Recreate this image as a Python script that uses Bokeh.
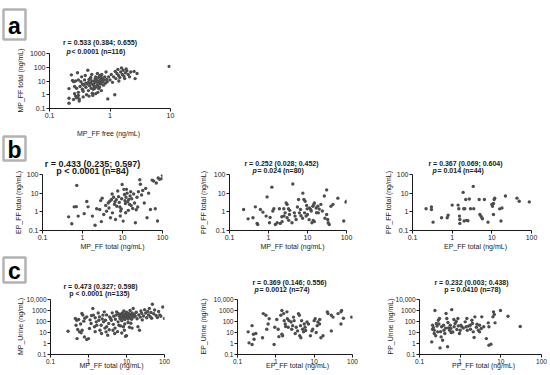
from bokeh.plotting import figure
from bokeh.models import Label, FixedTicker, Range1d, GridBox, BoxAnnotation
from bokeh.layouts import row, column
from bokeh.embed import file_html
from bokeh.resources import INLINE

# ---------------- data ----------------
# panel a: MP_FF free vs MP_FF total (n=116)
a_x = [0.21,0.21,0.21,0.23,0.24,0.25,0.25,0.26,0.26,0.27,0.27,0.28,0.28,0.29,0.29,0.30,0.30,0.30,0.31,0.31,
       0.32,0.33,0.34,0.35,0.36,0.36,0.37,0.38,0.39,0.40,0.41,0.42,0.43,0.44,0.44,0.45,0.46,0.47,0.48,0.49,0.50,0.50,0.51,0.52,
       0.53,0.54,0.55,0.56,0.57,0.58,0.59,0.60,0.61,0.62,0.63,0.64,0.65,0.66,0.67,0.68,0.69,0.70,0.71,0.72,0.73,0.74,0.75,0.76,0.78,0.80,0.82,0.84,0.86,0.88,0.90,0.92,0.95,
       0.40,0.45,0.55,0.60,0.65,0.70,0.58,0.48,0.35,0.62,0.52,
       1.0,1.05,1.1,1.15,1.2,1.22,1.25,1.3,1.35,1.38,1.4,1.45,1.5,1.55,1.6,1.65,1.7,1.75,1.8,1.85,1.9,2.0,2.1,2.2,2.5,2.6,2.8,
       9.5]
a_y = [2.8,0.55,0.24,28,11,9,0.45,4,1.2,0.8,10,0.6,3,0.7,40,12,1.5,0.9,0.5,0.35,
       4,9,20,2.5,1.8,0.7,5,12,25,3.5,1,6,60,8,2,0.8,4.5,15,7,3,30,10,1.3,5.5,
       2.5,6,10,3,15,20,8,4,12,5,1.5,9,18,7,3.5,25,11,6,14,2,30,8,16,10,5,12,20,7,45,13,9,0.5,20,
       7,13,4,9.5,2.8,22,1.2,18,6,35,0.9,
       12,30,8,20,1.0,50,15,35,70,25,10,18,45,90,30,60,22,15,40,75,55,30,20,45,50,15,35,
       115]

# panel b1: MP_FF total vs EP_FF total (n=84)
b1_x = [0.45,0.54,0.62,0.70,0.72,0.78,1.1,1.28,1.38,1.77,2.06,2.26,2.7,2.85,3.1,2.96,3.4,4.0,4.6,4.4,4.8,5.3,5.0,5.6,
        6.0,6.3,6.5,6.7,7.0,7.2,7.6,8.0,8.3,8.6,9.0,9.3,9.5,9.8,10.4,10.8,11.2,11.5,11.8,12.2,12.6,13,13.5,14,14.3,15,15.5,
        16,17,18,19,20,21,22,23,25,27,28,30,32,35,38,41,45,50,55,60,66,70,75,78,85,95,100,12,8.8,16.5,5.5,3.8,24]
b1_y = [0.54,0.23,1.85,1.9,26,0.59,0.8,3.6,1.85,0.59,0.19,1.45,1.33,4.0,5.4,0.3,0.72,1.09,1.6,3.0,3.7,4.6,0.48,0.88,
        6,2.5,3.5,0.39,4.5,2.0,13,6.5,3.2,1.8,1.1,1.45,5,29,0.32,16,8.5,4,2.8,6,16,10,3.5,1.2,4.6,2.5,7,
        12,5,1.5,9,3,0.26,1.3,6,12,52,30,8,14,3,18,0.48,10,1.33,50,45,1.45,35,0.32,65,55,60,90,0.9,0.6,2.2,9,2.2,1.8]

# panel b2: MP_FF total vs PP_FF total (n=80)
b2_x = [0.23,0.40,0.46,0.51,0.53,0.62,0.72,0.87,0.92,1.06,1.22,1.29,1.37,1.67,1.9,2.0,2.24,2.47,2.67,2.84,3.0,3.0,3.26,3.45,
        4.0,4.2,4.6,4.8,5.1,5.9,6.2,6.6,7.6,8.1,8.7,8.4,9.2,10,9.8,11.2,12,13.7,14.5,15,13,15,16.7,18.3,19,27,31,31,33,34,36,
        45,60,85,100,98,1.1,2.2,3.5,5.5,6.8,7.5,9.5,11,12.5,14,17,20,22,24,28,40,0.3,1.5,2.5,3.3]
b2_y = [1.33,0.48,1.85,0.24,0.21,1.33,0.96,0.59,6.3,0.26,21,1.1,1.45,0.26,1.45,0.24,0.3,1.45,0.88,3.0,2.5,0.48,1.45,0.72,
        0.26,31,0.88,0.59,0.39,4.6,0.88,1.33,10,4.6,3.7,0.88,0.59,0.72,1.45,1.6,1.33,2,2.5,3,0.26,0.3,1.6,2,0.88,7,15,0.72,0.39,0.26,0.21,
        2.5,5.4,0.32,3.7,3.3,0.5,0.55,1.2,1.8,0.62,0.45,2.2,0.38,1.1,0.35,0.9,1.4,2.5,1.1,0.45,2,0.42,0.21,0.6,0.35]

# panel b3: EP_FF total vs PP_FF total (n=44)
b3_x = [0.22,0.30,0.30,0.33,0.54,0.75,0.79,1.0,1.41,1.47,1.53,1.56,1.56,1.89,1.96,2.08,2.0,2.3,2.5,2.2,2.7,2.9,3.4,3.5,
        4.8,5.0,5.3,5.6,5.8,6.5,8.0,10,10.4,11,11.5,11.8,11,15.7,18,17,22,43,49,88]
b3_y = [1.45,1.85,1.33,0.28,0.48,0.48,0.66,2.3,2.3,1.45,0.59,0.39,0.24,11,1.45,1.45,0.32,0.35,0.33,4.6,4.9,1.45,23,1.45,
        4.6,0.72,0.59,0.48,0.42,4.6,0.28,2.5,2,2.8,4.6,5.4,0.72,1.45,1.6,0.32,7,5.4,3.7,3.4]

# panel c1: MP_FF total vs MP_Urine (n=135)
c1_x = [0.29,0.45,0.49,0.47,0.52,0.5,0.58,0.64,0.68,0.67,0.71,0.75,0.78,0.9,1.0,0.9,1.06,1.17,1.3,1.35,1.44,1.6,1.65,1.87,1.95,
        2.0,2.15,2.4,2.5,2.8,2.6,2.9,3.2,3.0,3.4,3.6,4.0,4.2,4.4,4.9,5.3,5.5,6.0,6.0,6.3,8.3,8.8,9.4,20,22,48,90,100,
        6.5,6.8,7,7.2,7.5,7.8,8,8.2,8.5,8.7,9,9.2,9.5,9.8,10,10.3,10.6,11,11.3,11.6,12,12.4,12.8,13.2,13.6,14,14.5,15,15.5,16,
        17,18,19,21,23,24,25,26,28,30,32,34,36,38,40,42,44,46,52,55,60,65,70,75,80,
        1.5,2.2,2.7,3.5,4.5,5,5.8,7,7.5,9,10,11,12,13,14,
        0.55,0.62,0.8,1.1,1.2,1.5,1.8,2.3,3.0,3.8,4.6,5.1]
c1_y = [13,190,130,46,19,2.8,11.5,9.3,16,530,380,107,4,2.3,2.8,265,23,66,1500,380,33,93,46,130,265,
        16,46,380,93,130,750,11.5,5.7,33,66,265,130,610,16,8,380,750,530,93,46,33,16,4.6,33,16,3700,2100,190,
        300,180,450,250,120,600,350,200,900,280,150,480,320,220,700,400,260,170,550,330,230,1000,420,300,160,600,350,1500,250,450,
        300,700,180,400,250,900,550,140,320,1200,600,220,800,400,1500,280,650,200,500,1100,350,230,800,400,300,
        12,8,25,18,55,25,12,40,9,60,5,80,30,70,25,
        150,60,200,140,350,220,600,170,400,190,300,160]

# panel c2: EP_FF total vs EP_Urine (n=74)
c2_x = [0.19,0.2,0.24,0.24,0.27,0.26,0.45,0.47,0.55,0.58,0.63,0.67,0.9,0.94,1.06,1.15,1.2,1.35,1.44,1.44,1.5,1.6,1.65,1.76,
        1.95,2.0,2.1,2.2,2.5,2.6,2.75,2.9,3.0,3.4,3.7,3.9,4.1,4.2,4.5,4.4,4.7,5.0,5.5,5.3,5.8,6.5,7.1,8,8.7,9.2,10,10.6,
        11.3,12,12.5,13.8,15,17,22,23,28,31,28,42,50,52,50,58,95,0.3,1.8,3.2,6,14]
c2_y = [11.5,1.15,42,0.8,2.4,7,3.3,520,370,20,60,180,0.8,30,150,20,4.2,370,1000,7,5,520,120,60,
        750,180,30,120,90,20,42,250,120,30,14,520,370,5,3.3,42,120,20,60,11.5,30,90,60,5,14,20,120,180,
        10,42,90,60,3.3,5,750,520,370,250,14,520,750,1000,60,200,250,8,35,8,15,150]

# panel c3: PP_FF total vs PP_Urine (n=78)
c3_x = [0.2,0.21,0.22,0.23,0.23,0.24,0.26,0.27,0.28,0.29,0.31,0.32,0.34,0.35,0.39,0.4,0.42,0.45,0.47,0.49,0.52,0.55,0.57,
        0.59,0.62,0.66,0.71,0.75,0.8,0.83,0.88,0.96,1.0,1.04,1.1,1.33,1.4,1.46,1.5,1.6,1.76,1.94,2.0,2.1,2.2,2.3,2.6,2.8,
        3.0,3.0,3.3,3.4,3.8,4.4,4.9,5.1,5.1,5.7,6.4,6.6,6.9,7.2,9.8,15,30,
        0.21,0.25,0.3,0.33,0.37,0.44,0.5,0.6,0.7,0.9,1.2,1.8,2.5]
c3_y = [1.4,46,28,16,8,1000,66,38,11.5,130,190,0.4,4,33,46,16,8,530,190,0.5,26,16,46,
        23,1200,11,33,66,100,19,190,8,16,46,33,93,33,190,16,38,46,130,66,11.5,3.5,265,57,16,
        11.5,46,23,265,33,2.8,75,33,0.7,0.87,265,750,430,75,1000,300,35,
        20,5,60,12,2,25,80,10,150,40,25,20,30]

ticks_01_10 = [0.1, 1, 10]
ticks_01_100 = [0.1, 1, 10, 100]
ticks_01_1000 = [0.1, 1, 10, 100, 1000]
ticks_01_10000 = [0.1, 1, 10, 100, 1000, 10000]
tick_text = {0.1: "0.1", 1: "1", 10: "10", 100: "100", 1000: "1000", 10000: "10,000"}

AX_FONT = "Liberation Sans"
INK = "#1a1a1a"
W, H = 548, 373


def panel(xs, ys, xr, yr, xt, yt, bl, fw, br, bt, fh, bb, tick_size="7px"):
    p = figure(x_axis_type="log", y_axis_type="log",
               x_range=Range1d(*xr), y_range=Range1d(*yr),
               frame_width=fw, frame_height=fh,
               min_border_left=bl, min_border_right=br,
               min_border_top=bt, min_border_bottom=bb,
               toolbar_location=None, output_backend="svg")
    p.outline_line_color = None
    p.xgrid.visible = False
    p.ygrid.visible = False
    p.background_fill_color = "white"
    p.border_fill_color = "white"
    for ax, t in ((p.xaxis[0], xt), (p.yaxis[0], yt)):
        ax.ticker = FixedTicker(ticks=t, minor_ticks=[])
        ax.major_label_overrides = {v: tick_text[v] for v in t}
        ax.axis_line_color = INK
        ax.axis_line_width = 1
        ax.major_tick_line_color = INK
        ax.major_tick_out = 3
        ax.major_tick_in = 0
        ax.minor_tick_out = 0
        ax.minor_tick_in = 0
        ax.major_label_text_font = AX_FONT
        ax.major_label_text_font_size = tick_size
        ax.major_label_text_color = INK
        ax.major_label_standoff = 1
    p.scatter(xs, ys, size=3.4, color="#4d4d4d", line_color=None)
    return p


# ---- panels (page coordinates of frames match the reference) ----
pa = panel(a_x, a_y, (0.1, 10), (0.1, 1000), ticks_01_10, ticks_01_1000,
           49, 121, 30, 53, 55, 28)

pb1 = panel(b1_x, b1_y, (0.1, 100), (0.1, 100), ticks_01_100, ticks_01_100,
            42, 120, 25, 38, 56, 22)
pb2 = panel(b2_x, b2_y, (0.1, 100), (0.1, 100), ticks_01_100, ticks_01_100,
            42, 117, 26, 38, 56, 22)
pb3 = panel(b3_x, b3_y, (0.1, 100), (0.1, 100), ticks_01_100, ticks_01_100,
            40, 119, 14, 38, 56, 22)

pc1 = panel(c1_x, c1_y, (0.1, 100), (0.1, 10000), ticks_01_100, ticks_01_10000,
            50, 114, 26, 47, 55, 19, tick_size="6.5px")
pc2 = panel(c2_x, c2_y, (0.1, 100), (0.1, 10000), ticks_01_100, ticks_01_10000,
            47, 115, 26, 47, 55, 19, tick_size="6.5px")
pc3 = panel(c3_x, c3_y, (0.1, 100), (0.1, 10000), ticks_01_100, ticks_01_10000,
            41, 122, 6, 47, 55, 19, tick_size="6.5px")

panels = column(pa, row(pb1, pb2, pb3, spacing=0), row(pc1, pc2, pc3, spacing=0), spacing=0)

# ---- transparent overlay for panel letters, statistics and axis titles ----
ov = figure(width=W, height=H, x_range=Range1d(0, W), y_range=Range1d(H, 0),
            min_border=0, toolbar_location=None, output_backend="svg")
ov.axis.visible = False
ov.grid.visible = False
ov.outline_line_color = None
ov.background_fill_color = None
ov.border_fill_color = None


def txt(x, y, text, size="7px", style="normal", align="center", angle=0, font=AX_FONT):
    ov.add_layout(Label(x=x, y=y, text=text, text_font=font, text_font_size=size,
                        text_font_style=style, text_align=align, text_baseline="middle",
                        angle=angle, text_color=INK))


def letter(cx, cy, w, h, text):
    ov.add_layout(BoxAnnotation(left=cx - w / 2, right=cx + w / 2, top=cy - h / 2, bottom=cy + h / 2,
                                fill_color="white", fill_alpha=1, line_color="black", line_width=2.5))
    ov.add_layout(Label(x=cx, y=cy + 1, text=text, text_font="Liberation Sans", text_font_size="23px",
                        text_font_style="bold", text_align="center", text_baseline="middle",
                        text_color="black"))


def stats(l1, l2, c1, y1, x2, y2, italic_p, size="7px", pw=5.0):
    txt(c1, y1, l1, size=size, style="bold")
    if italic_p:
        txt(x2, y2, "p", size=size, style="bold italic", align="left")
        txt(x2 + pw, y2, l2, size=size, style="bold", align="left")
    else:
        txt(x2, y2, l2, size=size, style="bold")


ROT = 1.5708
AXS = "7px"

letter(14, 24, 22, 30, "a")
letter(14, 148, 22, 24, "b")
letter(14, 269.5, 22, 25, "c")

stats("r = 0.533 (0.384; 0.655)", "< 0.0001 (n=116)", 99.5, 42, 66, 51, True)
stats("r = 0.433 (0.235; 0.597)", "p < 0.0001 (n=84)", 92, 163, 92, 170, False, size="9px")
stats("r = 0.252 (0.028; 0.452)", "= 0.024 (n=80)", 281, 163, 252, 170, True)
stats("r = 0.367 (0.069; 0.604)", "= 0.014 (n=44)", 465, 163, 432, 170, True)
stats("r = 0.473 (0.327; 0.598)", "p < 0.0001 (n=135)", 100, 286, 99, 293, False)
stats("r = 0.369 (0.146; 0.556)", "= 0.0012 (n=74)", 289, 282, 254, 289, True)
stats("r = 0.232 (0.003; 0.438)", "p = 0.0410 (n=78)", 471, 282, 472, 289, False)

txt(20, 80, "MP_FF total (ng/mL)", size=AXS, angle=ROT)
txt(108, 133, "MP_FF free (ng/mL)", size=AXS)
txt(18, 202, "EP_FF total (ng/mL)", size=AXS, angle=ROT)
txt(112, 246, "MP_FF total (ng/mL)", size=AXS)
txt(203, 202, "PP_FF total (ng/mL)", size=AXS, angle=ROT)
txt(292, 246, "MP_FF total (ng/mL)", size=AXS)
txt(388, 202, "PP_FF total (ng/mL)", size=AXS, angle=ROT)
txt(475, 246, "EP_FF total (ng/mL)", size=AXS)
txt(20, 326, "MP_Urine (ng/mL)", size=AXS, angle=ROT)
txt(111, 365, "MP_FF total (ng/mL)", size=AXS)
txt(203, 326, "EP_Urine (ng/mL)", size=AXS, angle=ROT)
txt(297, 365, "EP_FF total (ng/mL)", size=AXS)
txt(390, 326, "PP_Urine (ng/mL)", size=AXS, angle=ROT)
txt(483, 365, "PP_FF total (ng/mL)", size=AXS)

layout = GridBox(children=[(panels, 0, 0), (ov, 0, 0)])

open("out.html", "w").write(file_html(layout, INLINE))
